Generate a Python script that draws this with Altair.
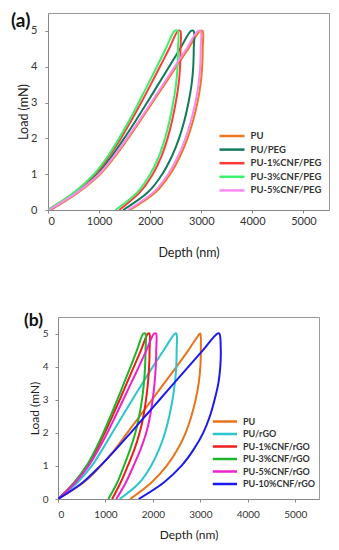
import altair as alt
import pandas as pd

# ---------------- data ----------------
LOAD_UP = [0, 0.5, 1, 1.5, 2, 2.5, 3, 3.5, 4, 4.5, 5]
LOAD_DOWN = [5, 4.5, 4, 3.5, 3, 2.5, 2, 1.5, 1, 0.5, 0]
X_TICKS = [0, 1000, 2000, 3000, 4000, 5000]
Y_TICKS = [0, 1, 2, 3, 4, 5]

# panel (a)
A_NAMES = ["PU", "PU/PEG", "PU-1%CNF/PEG", "PU-3%CNF/PEG", "PU-5%CNF/PEG"]
A_COLORS = ["#EE7722", "#117A5C", "#FF3B3B", "#3BF06A", "#F98BF0"]
A_PU_UP = [50, 600, 1020, 1315, 1570, 1810, 2045, 2280, 2510, 2745, 2980]
A_PU_DOWN = [3025, 3028, 3018, 2985, 2925, 2840, 2730, 2585, 2390, 2110, 1600]
A_PEG_UP = [20, 560, 960, 1245, 1490, 1720, 1940, 2155, 2370, 2585, 2800]
A_PEG_DOWN = [2850, 2853, 2843, 2810, 2750, 2670, 2565, 2425, 2235, 1960, 1470]
A_1_UP = [0, 530, 920, 1195, 1425, 1630, 1825, 2010, 2190, 2370, 2545]
A_1_DOWN = [2590, 2593, 2585, 2555, 2500, 2430, 2340, 2220, 2050, 1800, 1390]
A_3_UP = [0, 520, 900, 1170, 1390, 1590, 1775, 1955, 2130, 2305, 2480]
A_3_DOWN = [2540, 2543, 2535, 2505, 2450, 2380, 2290, 2170, 2000, 1750, 1320]
A_5_UP = [20, 575, 995, 1290, 1545, 1785, 2020, 2250, 2480, 2710, 2935]
A_5_DOWN = [2985, 2988, 2978, 2945, 2885, 2800, 2690, 2545, 2350, 2070, 1560]

# panel (b)
B_NAMES = ["PU", "PU/rGO", "PU-1%CNF/rGO", "PU-3%CNF/rGO", "PU-5%CNF/rGO", "PU-10%CNF/rGO"]
B_COLORS = ["#E8731A", "#2BC6CC", "#EE1C1C", "#1DB52A", "#EE22CC", "#1A1AF0"]
B_PU_UP = [0, 540, 900, 1200, 1460, 1720, 1980, 2240, 2500, 2750, 2990]
B_PU_DOWN = [3000, 3010, 3000, 2965, 2900, 2810, 2690, 2520, 2290, 1970, 1520]
B_RGO_UP = [0, 410, 710, 935, 1145, 1355, 1565, 1780, 2000, 2230, 2465]
B_RGO_DOWN = [2495, 2500, 2492, 2462, 2412, 2345, 2255, 2130, 1960, 1720, 1300]
B_1_UP = [0, 355, 620, 815, 985, 1145, 1300, 1450, 1600, 1750, 1895]
B_1_DOWN = [1925, 1930, 1920, 1895, 1855, 1800, 1720, 1610, 1470, 1320, 1140]
B_3_UP = [0, 340, 600, 790, 955, 1105, 1250, 1390, 1530, 1665, 1800]
B_3_DOWN = [1840, 1845, 1835, 1810, 1770, 1710, 1630, 1520, 1390, 1250, 1060]
B_5_UP = [0, 365, 645, 855, 1040, 1210, 1375, 1540, 1705, 1865, 2025]
B_5_DOWN = [2065, 2070, 2060, 2035, 1995, 1940, 1860, 1740, 1590, 1430, 1230]
B_10_UP = [0, 520, 890, 1220, 1530, 1835, 2140, 2445, 2750, 3055, 3360]
B_10_DOWN = [3400, 3430, 3420, 3380, 3300, 3200, 3060, 2860, 2600, 2230, 1700]

FONT = "Lato"


def build(names, ups, downs):
    rows = []
    for name, up, down in zip(names, ups, downs):
        i = 0
        for L, d in zip(LOAD_UP, up):
            rows.append({"series": name, "depth": d, "load": L, "order": i})
            i += 1
        for L, d in zip(LOAD_DOWN, down):
            rows.append({"series": name, "depth": d, "load": L, "order": i})
            i += 1
    return pd.DataFrame(rows)


def panel(df, names, colors, tag, w, h, lx, ly, lpath, lsize, lrowpad, loff,
          lfs, xlp, xtp, ylp, ytp, tfs, ttfs, tag_x, tag_y, tag_fs):
    x = alt.X("depth:Q",
              scale=alt.Scale(domain=[0, 5500], nice=False, zero=False),
              axis=alt.Axis(values=X_TICKS, format="d", title="Depth (nm)",
                            grid=False, labelPadding=xlp, titlePadding=xtp,
                            labelFontSize=tfs, titleFontSize=ttfs))
    y = alt.Y("load:Q",
              scale=alt.Scale(domain=[0, 5.5], nice=False, zero=False),
              axis=alt.Axis(values=Y_TICKS, format="d", title="Load (mN)",
                            grid=False, labelPadding=ylp, titlePadding=ytp,
                            labelFontSize=tfs, titleFontSize=ttfs))
    lines = alt.Chart(df).mark_line(strokeWidth=2, interpolate="catmull-rom",
                                    clip=True).encode(
        x=x, y=y,
        color=alt.Color("series:N",
                        scale=alt.Scale(domain=names, range=colors),
                        sort=names,
                        legend=alt.Legend(
                            title=None, orient="none", legendX=lx, legendY=ly,
                            padding=0, symbolType=lpath,
                            symbolSize=lsize, symbolStrokeWidth=2.5,
                            rowPadding=lrowpad, labelOffset=loff,
                            labelFontSize=lfs, labelFontWeight="bold",
                            labelFont=FONT, labelColor="#333")),
        order="order:Q",
        detail="series:N",
    )
    label = alt.Chart(pd.DataFrame({"t": [tag]})).mark_text(
        align="left", baseline="middle", fontSize=tag_fs, fontWeight="bold",
        font=FONT, color="#111").encode(
        x=alt.value(tag_x), y=alt.value(tag_y), text="t:N")
    return alt.layer(lines, label).properties(width=w, height=h)


df_a = build(A_NAMES,
             [A_PU_UP, A_PEG_UP, A_1_UP, A_3_UP, A_5_UP],
             [A_PU_DOWN, A_PEG_DOWN, A_1_DOWN, A_3_DOWN, A_5_DOWN])
df_b = build(B_NAMES,
             [B_PU_UP, B_RGO_UP, B_1_UP, B_3_UP, B_5_UP, B_10_UP],
             [B_PU_DOWN, B_RGO_DOWN, B_1_DOWN, B_3_DOWN, B_5_DOWN, B_10_DOWN])

chart_a = panel(df_a, A_NAMES, A_COLORS, "(a)", 281, 197,
                176.5, 115.5, "M-2,0L2,0", 156, 0.6, 11, 9.5,
                2, 20, 8, 0, 11, 12.5, -37, 8, 19)
chart_b = panel(df_b, B_NAMES, B_COLORS, "(b)", 261, 182,
                159.9, 97.5, "M-2.2,0L2.2,0", 121, 0.5, 11.1, 9,
                7, 10, 7, 1, 10, 12, -34, 4, 17.5)

chart = alt.vconcat(chart_a, chart_b, spacing=107, bounds="flush",
                    center=True).resolve_scale(
    x="independent", y="independent", color="independent"
).resolve_legend(color="independent").properties(
    padding={"left": 2, "top": 3, "right": 0, "bottom": 0}
).configure_view(stroke="#999", strokeWidth=1).configure_axis(
    labelFont=FONT, titleFont=FONT, labelColor="#333", titleColor="#222",
    titleFontWeight="normal", domainColor="#888", tickColor="#888",
    tickSize=3, domainWidth=1
)

chart.save("out.html", embed_options={"renderer": "svg", "actions": False})
